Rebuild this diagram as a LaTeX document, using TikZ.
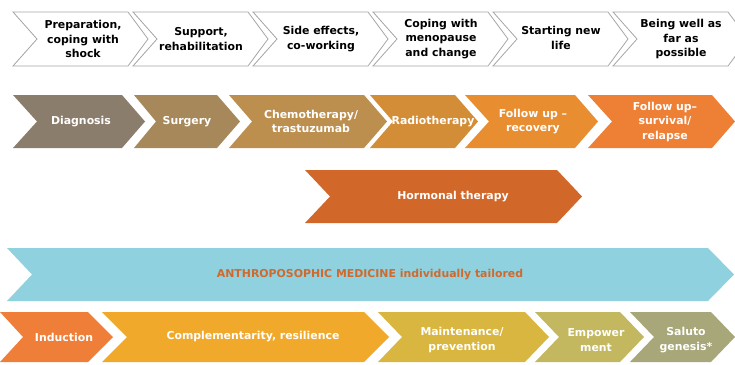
\documentclass[tikz,border=0pt]{standalone}
\usepackage{fontspec}
\setmainfont{DejaVu Sans}
\definecolor{edgegray}{HTML}{A6A6A6}
\definecolor{cdiag}{HTML}{8B7D6C}
\definecolor{csurg}{HTML}{A6885A}
\definecolor{cchemo}{HTML}{BD8F4F}
\definecolor{cradio}{HTML}{D38D36}
\definecolor{cfurec}{HTML}{E98D31}
\definecolor{cfusur}{HTML}{EE8035}
\definecolor{chorm}{HTML}{D2672A}
\definecolor{cband}{HTML}{8FD1DF}
\definecolor{cbandtxt}{HTML}{D2692C}
\definecolor{cind}{HTML}{EE7E38}
\definecolor{ccomp}{HTML}{F0A92B}
\definecolor{cmaint}{HTML}{D9B640}
\definecolor{cemp}{HTML}{C3B860}
\definecolor{csal}{HTML}{A7A77A}
% chevron: #1 style, #2 left x, #3 top-right x, #4 top y, #5 bottom y, #6 notch depth, #7 tip depth
\newcommand\chevshape[7]{%
  \path[#1] (#2,#4) -- (#3,#4) -- ({#3+#7},{(#4+#5)/2}) -- (#3,#5) -- (#2,#5)
    -- ({#2+#6},{(#4+#5)/2}) -- cycle;}
\tikzset{
  phase/.style={draw=edgegray, line width=0.8pt, fill=white, line join=miter},
  lbl/.style={align=center, inner sep=0pt, font=\bfseries\fontsize{10.9}{14.5}\selectfont},
  darklbl/.style={lbl, text=black},
  whitelbl/.style={lbl, text=white},
}
\begin{document}
\begin{tikzpicture}[x=1pt, y=-1pt]
\useasboundingbox (0,0) rectangle (735,364);
\clip (0,0) rectangle (735,364);

% phases of coping
\chevshape{phase}{13}{128}{12}{66}{24}{20}
\chevshape{phase}{133}{248}{12}{66}{24}{20}
\chevshape{phase}{253}{368}{12}{66}{24}{20}
\chevshape{phase}{373}{488}{12}{66}{24}{20}
\chevshape{phase}{493}{608}{12}{66}{24}{20}
\chevshape{phase}{613}{728}{12}{66}{24}{20}
\node[darklbl] (p1) at (83,39) {Preparation,\\coping with\\shock};
\node[darklbl] (p2) at (201,39) {Support,\\rehabilitation};
\node[darklbl] (p3) at (321,39) {Side effects,\\co-working};
\node[darklbl] (p4) at (441,39) {Coping with\\menopause\\and change};
\node[darklbl] (p5) at (561,38) {Starting new\\life};
\node[darklbl] (p6) at (681,39) {Being well as\\far as\\possible};

% treatment course
\chevshape{fill=cdiag}{13}{122}{95}{148}{24}{23}
\chevshape{fill=csurg}{134}{217}{95}{148}{22}{23}
\chevshape{fill=cchemo}{229}{364}{95}{148}{23}{23}
\chevshape{fill=cradio}{370}{455}{95}{148}{23}{23}
\chevshape{fill=cfurec}{465}{575}{95}{148}{24}{23}
\chevshape{fill=cfusur}{588}{712}{95}{148}{24}{23}
\node[whitelbl] (t1) at (81,121.5) {Diagnosis};
\node[whitelbl] (t2) at (187,121.5) {Surgery};
\node[whitelbl] (t3) at (311,121.5) {Chemotherapy/\\trastuzumab};
\node[whitelbl] (t4) at (433,121.5) {Radiotherapy};
\node[whitelbl] (t5) at (533,121.5) {Follow up –\\recovery};
\node[whitelbl] (t6) at (665,121.5) {Follow up–\\survival/\\relapse};

% hormonal therapy
\chevshape{fill=chorm}{305}{557}{170}{223}{25}{25}
\node[whitelbl] (h) at (453,196.5) {Hormonal therapy};

% anthroposophic medicine band
\chevshape{fill=cband}{7}{708}{248}{301}{25}{26}
\node[lbl, text=cbandtxt] (am) at (370,274.5) {ANTHROPOSOPHIC MEDICINE individually tailored};

% therapeutic aims
\chevshape{fill=cind}{0}{88}{312}{362}{23}{25}
\chevshape{fill=ccomp}{102}{364}{312}{362}{25}{25}
\chevshape{fill=cmaint}{378}{525}{312}{362}{24}{24}
\chevshape{fill=cemp}{535}{620}{312}{362}{24}{24}
\chevshape{fill=csal}{630}{711}{312}{362}{24}{24}
\node[whitelbl] (a1) at (64,337) {Induction};
\node[whitelbl] (a2) at (253,337) {Complementarity, resilience};
\node[whitelbl] (a3) at (462,340) {Maintenance/\\prevention};
\node[whitelbl] (a4) at (596,340) {Empower\\ment};
\node[whitelbl] (a5) at (686,340) {Saluto\\genesis*};
\end{tikzpicture}
\end{document}
